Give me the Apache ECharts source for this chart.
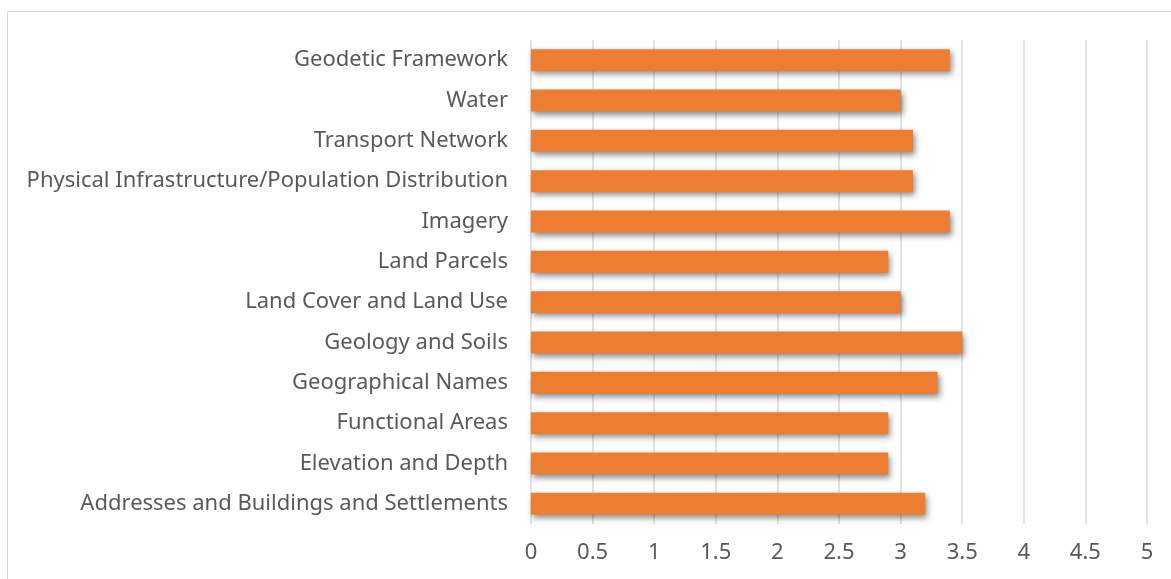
<!DOCTYPE html>
<html>
<head>
<meta charset="utf-8">
<script src="https://cdn.jsdelivr.net/npm/echarts@6/dist/echarts.min.js"></script>
<style>
  html, body { margin: 0; padding: 0; background: #fff; }
  #frame { position: absolute; left: 7px; top: 11px; width: 1180px; height: 600px; border: 1px solid #d9d9d9; box-sizing: border-box; }
  #chart { position: absolute; left: 0; top: 0; width: 1171px; height: 579px; }
</style>
</head>
<body>
<div id="frame"></div>
<div id="chart"></div>
<script>
// categories listed bottom to top, as the axis draws them
const categories = [
  'Addresses and Buildings and Settlements',
  'Elevation and Depth',
  'Functional Areas',
  'Geographical Names',
  'Geology and Soils',
  'Land Cover and Land Use',
  'Land Parcels',
  'Imagery',
  'Physical Infrastructure/Population Distribution',
  'Transport Network',
  'Water',
  'Geodetic Framework'
];
const scores = [3.2, 2.9, 2.9, 3.3, 3.5, 3.0, 2.9, 3.4, 3.1, 3.1, 3.0, 3.4];

const chart = echarts.init(document.getElementById('chart'));
const font = 'Noto Sans';

chart.setOption({
  animation: false,
  grid: { left: 531, right: 24, top: 40, bottom: 55 },
  xAxis: {
    type: 'value',
    min: 0,
    max: 5,
    interval: 0.5,
    axisLine: { show: false },
    axisTick: { show: false },
    axisLabel: { color: '#595959', fontSize: 22, fontFamily: font, margin: 18 },
    splitLine: { lineStyle: { color: '#d9d9d9', width: 1.5 } }
  },
  yAxis: {
    type: 'category',
    data: categories,
    axisLine: { show: false },
    axisTick: { show: false },
    axisLabel: { color: '#595959', fontSize: 22, fontFamily: font, margin: 23 }
  },
  series: [{
    type: 'bar',
    data: scores,
    barWidth: 22,
    itemStyle: {
      color: '#ed7d31',
      shadowColor: 'rgba(0,0,0,0.45)',
      shadowBlur: 6,
      shadowOffsetX: 2,
      shadowOffsetY: 3
    }
  }]
});
</script>
</body>
</html>
